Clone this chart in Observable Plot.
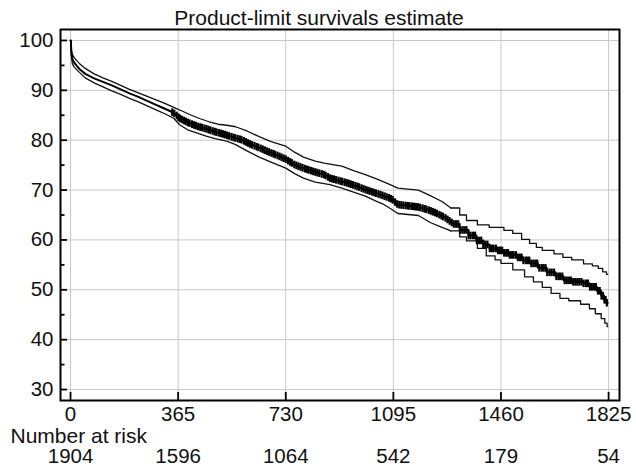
<!DOCTYPE html>
<html><head><meta charset="utf-8">
<script src="https://cdn.jsdelivr.net/npm/d3@7"></script>
<script src="https://cdn.jsdelivr.net/npm/@observablehq/plot@0.6"></script>
<style>
body{margin:0;background:#fff}
#chart svg{font-family:"Liberation Sans",Arial,Helvetica,sans-serif;background:#fff}
</style>
</head><body><div id="chart"></div>
<script>
const title = "Product-limit survivals estimate";
const xTicks = [0, 365, 730, 1095, 1460, 1825];
const yTicks = [30, 40, 50, 60, 70, 80, 90, 100];
const yMinorTicks = [35, 45, 55, 65, 75, 85, 95];
const atRiskLabel = "Number at risk";
const atRisk = [1904, 1596, 1064, 542, 179, 54];

// Kaplan-Meier estimate [days, survival %]
const estimate = [[0,100],[1,100],[3,97.5],[6,96.3],[12,95.6],[20,95.0],[30,94.3],[50,93.3],[80,92.4],[110,91.7],[140,91.0],[170,90.2],[200,89.4],[230,88.7],[260,87.9],[290,87.1],[320,86.3],[350,85.5],[370,84.4],[400,83.5],[430,82.8],[460,82.3],[490,81.7],[520,81.2],[550,80.6],[580,80.1],[610,79.2],[640,78.5],[670,77.7],[700,77.0],[730,76.2],[760,75.1],[790,74.4],[820,73.8],[860,73.1],[880,72.4],[910,71.9],[940,71.4],[970,70.8],[1000,70.1],[1030,69.5],[1060,68.9],[1090,68.2],[1110,67.1],[1180,66.6],[1210,66.1],[1240,65.4],[1270,64.5],[1300,63.2],[1320,62.0],[1350,60.9],[1377,59.9],[1400,59.1],[1421,58.3],[1445,57.9],[1469,57.4],[1490,57.0],[1513,56.5],[1535,55.9],[1557,55.3],[1585,54.4],[1615,53.5],[1645,52.7],[1672,51.9],[1700,51.6],[1740,51.3],[1760,50.6],[1785,49.8],[1800,48.8],[1810,48.0],[1818,47.4],[1822,47.4]];

// upper 95% confidence limit
const upper = [[0,100],[1,100],[3,98.0],[6,97.2],[12,96.6],[20,96.0],[30,95.4],[50,94.4],[80,93.3],[110,92.5],[140,91.8],[170,91.0],[200,90.2],[230,89.5],[260,88.8],[290,88.1],[320,87.4],[350,86.6],[380,85.8],[410,85.0],[440,84.3],[470,83.7],[500,83.2],[530,83.0],[560,82.7],[600,81.8],[640,80.7],[680,79.7],[730,78.8],[760,77.6],[790,76.6],[830,75.8],[860,75.4],[920,74.8],[960,73.9],[1000,73.1],[1040,72.2],[1080,71.2],[1110,70.4],[1180,70.0],[1220,68.9],[1260,67.7],[1290,66.4],[1320,65.0],[1343,63.9],[1380,63.0],[1420,62.5],[1470,61.9],[1500,61.3],[1530,60.1],[1557,59.3],[1580,58.5],[1600,57.9],[1640,57.2],[1670,56.5],[1700,56.0],[1740,55.2],[1770,54.8],[1790,54.3],[1805,53.6],[1818,53.1],[1822,53.1]];

// lower 95% confidence limit
const lower = [[0,100],[1,100],[3,97.0],[6,95.4],[12,94.7],[20,94.2],[30,93.6],[50,92.5],[80,91.5],[110,90.7],[140,89.9],[170,89.2],[200,88.4],[230,87.7],[260,86.9],[290,86.1],[320,85.3],[350,84.4],[370,83.1],[400,82.0],[430,81.4],[460,80.8],[490,80.3],[530,79.8],[560,79.1],[600,77.8],[640,76.6],[680,75.6],[730,74.4],[760,73.3],[790,72.4],[830,71.6],[880,71.1],[920,70.4],[960,69.6],[1000,68.8],[1040,67.7],[1060,67.2],[1090,66.1],[1110,65.3],[1180,64.9],[1220,63.5],[1260,62.5],[1290,61.8],[1320,60.6],[1343,59.8],[1380,58.3],[1410,56.8],[1440,56.0],[1460,55.3],[1500,54.0],[1540,52.6],[1570,51.6],[1600,50.5],[1630,49.3],[1660,48.3],[1690,47.8],[1730,47.1],[1760,46.2],[1780,45.2],[1800,44.2],[1812,43.3],[1820,42.6],[1822,42.6]];

// censoring times (days)
const censored = [345,352,360,366,371,378,385,391,398,404,412,419,425,433,440,446,454,461,468,474,482,489,495,503,510,517,524,531,538,546,553,559,567,574,580,588,595,602,609,616,624,631,637,645,652,659,666,673,681,688,694,702,709,716,723,730,738,745,751,759,766,773,780,787,795,802,808,816,823,830,837,844,852,859,865,873,880,887,894,901,909,916,922,930,937,944,951,958,966,973,979,987,994,1001,1008,1015,1023,1030,1036,1044,1051,1058,1065,1072,1080,1087,1093,1101,1108,1115,1122,1129,1137,1144,1150,1158,1165,1172,1179,1186,1194,1201,1207,1215,1222,1229,1236,1243,1251,1258,1264,1272,1279,1286,1293,1300,1308,1315,1321,1329,1336,1343,1350,1357,1365,1372,1378,1386,1393,1400,1407,1414,1422,1429,1435,1443,1450,1457,1464,1471,1478,1484,1490,1497,1503,1511,1517,1524,1530,1536,1544,1550,1556,1563,1570,1577,1583,1590,1598,1604,1611,1617,1625,1632,1640,1648,1655,1661,1668,1676,1683,1690,1697,1705,1712,1719,1726,1733,1740,1748,1755,1762,1768,1775,1782,1789,1795,1801,1806,1811,1815,1819];

// early part drawn with fine (visually continuous) steps, late part with visible stairs
const stairFrom = 1300;
const bis = d3.bisector(d => d[0]).right;
function splitAt(data) {
  const i = Math.max(0, bis(data, stairFrom) - 1);
  return [data.slice(0, i + 1), data.slice(i)];
}
function survAt(t) {
  const i = Math.max(0, bis(estimate, t) - 1);
  const a = estimate[i], b = estimate[i + 1];
  if (t >= stairFrom || !b) return a[1];
  return a[1] + (b[1] - a[1]) * (t - a[0]) / (b[0] - a[0]);
}
function curveMarks(data, opts) {
  const [early, late] = splitAt(data);
  return [
    Plot.line(early, {x: d => d[0], y: d => d[1], curve: "linear", ...opts}),
    Plot.line(late, {x: d => d[0], y: d => d[1], curve: "step-after", ...opts})
  ];
}

const tickSymbol = {
  draw(context, size) {
    const r = Math.sqrt(size / Math.PI);
    context.moveTo(0, -r);
    context.lineTo(0, r);
  }
};

const fs = 20.5;
const plain = d => String(d);
const chart = Plot.plot({
  width: 636,
  height: 471,
  marginLeft: 60,
  marginRight: 17,
  marginTop: 29,
  marginBottom: 71,
  style: {fontSize: fs + "px", color: "#111", background: "#fff"},
  x: {domain: [-34, 1862], label: null},
  y: {domain: [27.8, 102.2], label: null},
  marks: [
    Plot.gridX(xTicks, {stroke: "#c8c8c8", strokeOpacity: 1, strokeWidth: 1}),
    Plot.gridY(yTicks, {stroke: "#c8c8c8", strokeOpacity: 1, strokeWidth: 1}),
    ...curveMarks(upper, {stroke: "#111", strokeWidth: 1.3}),
    ...curveMarks(lower, {stroke: "#111", strokeWidth: 1.3}),
    ...curveMarks(estimate, {stroke: "#000", strokeWidth: 2}),
    Plot.dot(censored, {x: d => d, y: d => survAt(d), symbol: tickSymbol, r: 3.8, fill: "none", stroke: "#000", strokeWidth: 2.2}),
    Plot.frame({stroke: "#000", strokeWidth: 2}),
    Plot.axisY(yTicks, {tickSize: -7, tickFormat: () => "", strokeWidth: 1.8, stroke: "#000", label: null}),
    Plot.axisY(yMinorTicks, {tickSize: -4.5, tickFormat: () => "", strokeWidth: 1.8, stroke: "#000", label: null}),
    Plot.axisX(xTicks, {tickSize: -8, tickFormat: () => "", strokeWidth: 1.8, stroke: "#000", label: null}),
    Plot.axisY(yTicks, {tickSize: 0, tickPadding: 7, fontSize: fs, fill: "#111", tickFormat: plain, label: null}),
    Plot.axisX(xTicks, {tickSize: 0, tickPadding: 6, fontSize: fs, fill: "#111", tickFormat: plain, label: null}),
    Plot.text([atRiskLabel], {frameAnchor: "bottom-left", lineAnchor: "middle", dx: -50, dy: 35.3, textAnchor: "start", fontSize: 21, fill: "#111"}),
    Plot.text(atRisk, {x: (d, i) => xTicks[i], text: plain, frameAnchor: "bottom", lineAnchor: "middle", dy: 56.3, fontSize: fs, fill: "#111"}),
    Plot.text([title], {frameAnchor: "top", lineAnchor: "middle", dx: -21, dy: -11.7, fontSize: 21, fill: "#111"})
  ]
});
document.getElementById("chart").append(chart);
</script>
</body></html>
